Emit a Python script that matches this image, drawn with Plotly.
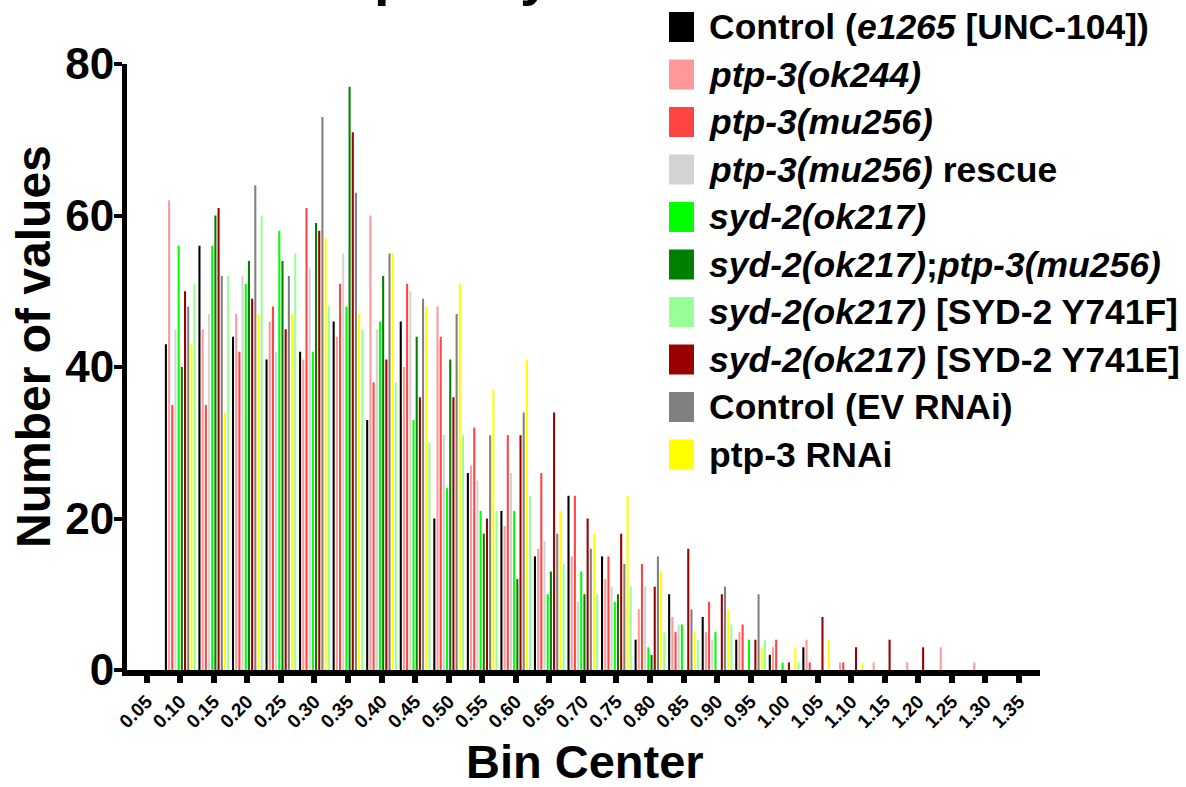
import plotly.graph_objects as go

# ---------------- data ----------------
bins = [0.05, 0.10, 0.15, 0.20, 0.25, 0.30, 0.35, 0.40, 0.45, 0.50, 0.55, 0.60, 0.65,
        0.70, 0.75, 0.80, 0.85, 0.90, 0.95, 1.00, 1.05, 1.10, 1.15, 1.20, 1.25, 1.30, 1.35]

control_e1265 = [0, 43, 56, 44, 41, 42, 46, 33, 46, 20, 26, 21, 15, 23, 15, 4, 10, 7, 4, 2, 3, 0, 0, 0, 0, 0, 0]
ptp3_ok244 = [0, 62, 45, 47, 46, 41, 44, 60, 40, 48, 27, 19, 16, 15, 12, 8, 7, 5, 5, 3, 4, 1, 1, 1, 3, 1, 0]
ptp3_mu256 = [0, 35, 35, 42, 48, 61, 51, 38, 51, 44, 32, 31, 26, 23, 15, 14, 5, 9, 6, 4, 1, 1, 0, 0, 0, 0, 0]
ptp3_mu256_rescue = [0, 45, 47, 52, 42, 53, 55, 45, 50, 31, 25, 26, 17, 9, 11, 11, 6, 4, 0, 0, 0, 0, 0, 0, 0, 0, 0]
syd2_ok217 = [0, 56, 56, 51, 58, 42, 48, 46, 33, 24, 21, 21, 10, 13, 9, 3, 6, 5, 4, 1, 0, 0, 0, 0, 0, 0, 0]
syd2_ptp3_mu256 = [0, 40, 60, 54, 54, 59, 77, 52, 44, 41, 18, 12, 13, 10, 10, 2, 0, 0, 0, 0, 0, 0, 0, 0, 0, 0, 0]
syd2_y741e = [0, 50, 61, 49, 45, 58, 71, 41, 36, 36, 20, 31, 34, 20, 18, 11, 16, 10, 4, 1, 7, 3, 4, 3, 0, 0, 0]
control_ev_rnai = [0, 48, 52, 64, 52, 73, 63, 55, 49, 47, 31, 34, 18, 16, 14, 15, 8, 11, 10, 0, 0, 0, 0, 0, 0, 0, 0]
ptp3_rnai = [0, 43, 34, 47, 47, 57, 47, 55, 48, 51, 37, 41, 21, 18, 23, 13, 5, 8, 3, 3, 4, 1, 0, 0, 0, 0, 0]
syd2_y741f = [0, 51, 52, 60, 55, 48, 45, 38, 30, 31, 21, 23, 14, 10, 11, 5, 4, 6, 4, 1, 0, 0, 0, 0, 0, 0, 0]

legend_names = [
    "Control (<i>e1265</i> [UNC-104])",
    "<i>ptp-3(ok244)</i>",
    "<i>ptp-3(mu256)</i>",
    "<i>ptp-3(mu256)</i> rescue",
    "<i>syd-2(ok217)</i>",
    "<i>syd-2(ok217)</i>;<i>ptp-3(mu256)</i>",
    "<i>syd-2(ok217)</i> [SYD-2 Y741F]",
    "<i>syd-2(ok217)</i> [SYD-2 Y741E]",
    "Control (EV RNAi)",
    "ptp-3 RNAi",
]
legend_colors = ["#000000", "#FF9999", "#FF4444", "#D3D3D3", "#00FF00",
                 "#008000", "#99FF99", "#990000", "#808080", "#FFFF00"]
legend_values = [control_e1265, ptp3_ok244, ptp3_mu256, ptp3_mu256_rescue, syd2_ok217,
                 syd2_ptp3_mu256, syd2_y741f, syd2_y741e, control_ev_rnai, ptp3_rnai]

# order in which bars appear inside each group
bar_order = [0, 1, 2, 3, 4, 5, 7, 8, 9, 6]

# ---------------- layout geometry (pixels) ----------------
W, H = 1186, 787
L, R, T, B = 127, 1040, 64, 670
PW, PH = R - L, B - T
FONT = "Liberation Sans, Arial, sans-serif"


def px(x):
    return (x - L) / PW


def py(y):
    return (B - y) / PH


fig = go.Figure()
for i in bar_order:
    fig.add_trace(go.Bar(
        x=bins, y=legend_values[i], name=legend_names[i],
        marker=dict(color=legend_colors[i], line=dict(width=0)),
        showlegend=False,
    ))

annotations = []
shapes = []

# custom legend
for k, (name, col) in enumerate(zip(legend_names, legend_colors)):
    cy = 27 + k * 47.5
    shapes.append(dict(type="rect", xref="paper", yref="paper",
                       x0=px(669), x1=px(694), y0=py(cy + 15), y1=py(cy - 15),
                       fillcolor=col, line=dict(width=0)))
    annotations.append(dict(text="<b>" + name + "</b>", xref="paper", yref="paper",
                            x=px(707), y=py(cy), xanchor="left", yanchor="middle",
                            showarrow=False, font=dict(family=FONT, size=35.5, color="black")))

# title (mostly cut off above the picture)
annotations.append(dict(text="<b>Frequency distribution</b>", xref="paper", yref="paper",
                        x=px(571), y=py(8), xanchor="center", yanchor="bottom",
                        showarrow=False, font=dict(family=FONT, size=56, color="black")))
# axis titles
annotations.append(dict(text="<b>Number of values</b>", xref="paper", yref="paper",
                        x=px(33), y=py(347), xanchor="center", yanchor="middle", textangle=-90,
                        showarrow=False, font=dict(family=FONT, size=48, color="black")))
annotations.append(dict(text="<b>Bin Center</b>", xref="paper", yref="paper",
                        x=px(585), y=py(761), xanchor="center", yanchor="middle",
                        showarrow=False, font=dict(family=FONT, size=47, color="black")))

fig.update_layout(
    width=W, height=H,
    margin=dict(l=L, r=W - R, t=T, b=H - B, pad=0),
    paper_bgcolor="white", plot_bgcolor="white",
    barmode="group", bargap=0.05, bargroupgap=0.35,
    showlegend=False,
    annotations=annotations, shapes=shapes,
    xaxis=dict(range=[0.02064, 1.3813], tickmode="linear", tick0=0.05, dtick=0.05,
               tickformat=".2f", tickangle=-45, showgrid=False, zeroline=False,
               showline=True, linecolor="black", linewidth=6,
               ticks="outside", ticklen=7, tickwidth=6, tickcolor="black",
               tickfont=dict(family=FONT, size=19, color="black", weight="bold")),
    yaxis=dict(range=[0, 80], tickmode="linear", tick0=0, dtick=20,
               showgrid=False, zeroline=False,
               showline=True, linecolor="black", linewidth=5,
               ticks="outside", ticklen=8, tickwidth=4, tickcolor="black",
               ticklabelstandoff=-9,
               tickfont=dict(family=FONT, size=44, color="black", weight="bold")),
)

fig.write_html("out.html")
